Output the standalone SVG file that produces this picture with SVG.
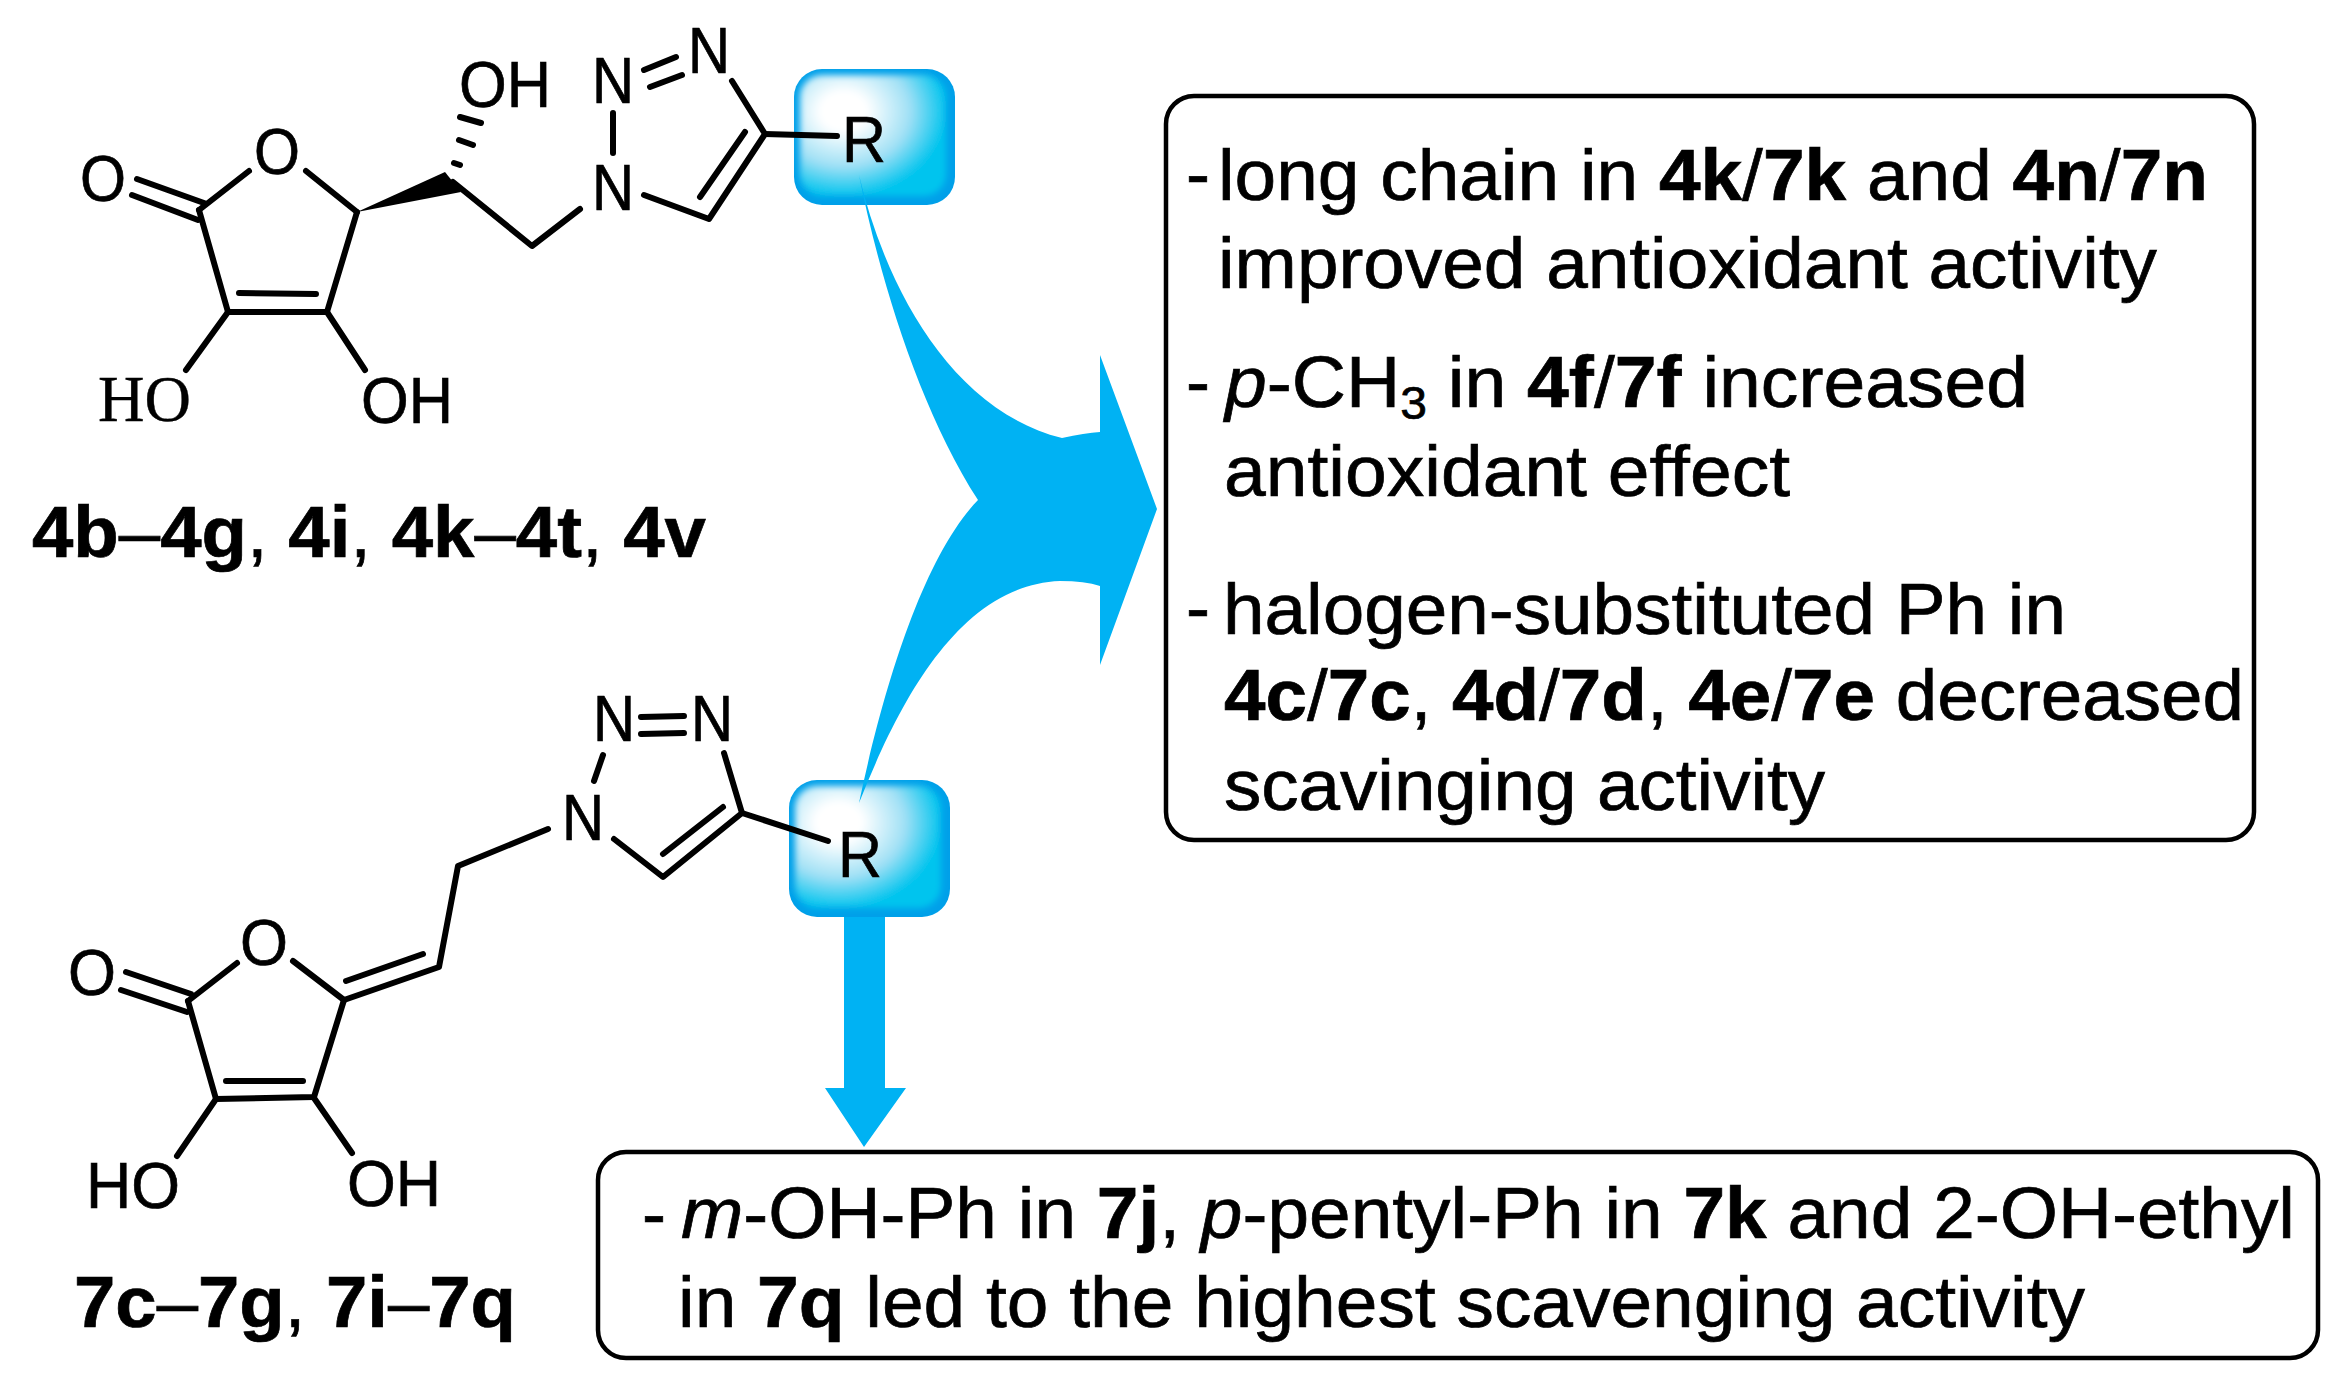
<svg xmlns="http://www.w3.org/2000/svg" width="2350" height="1397" viewBox="0 0 2350 1397">
<style>
text{font-family:"Liberation Sans",Arial,sans-serif;fill:#000;stroke:#000;stroke-width:.7}
.a{font-size:64px}
.s{font-family:"Liberation Serif","Times New Roman",serif;font-size:66px;stroke-width:.4}
.t{font-size:72px}
.l{font-size:72px}
.b{font-weight:bold}
.i{font-style:italic}
.n{font-weight:normal}
.bond{fill:none;stroke:#000;stroke-width:6;stroke-linecap:round;stroke-linejoin:round}
.box{fill:#fff;stroke:#000;stroke-width:4.5}
.arrow{fill:#00B2F3}
</style>
<defs>
<radialGradient id="glow" cx="0.3" cy="0.3" r="0.78">
<stop offset="0" stop-color="#fff"/>
<stop offset="0.2" stop-color="#fff"/>
<stop offset="0.58" stop-color="#a0e0f5"/>
<stop offset="0.9" stop-color="#00c4ee"/>
</radialGradient>
<filter id="soft" x="-10%" y="-10%" width="120%" height="120%"><feGaussianBlur stdDeviation="3"/></filter>
<clipPath id="c1"><rect x="794" y="69" width="161" height="136" rx="28"/></clipPath>
<clipPath id="c2"><rect x="789" y="780" width="161" height="137" rx="28"/></clipPath>
</defs>
<rect width="2350" height="1397" fill="#fff"/>

<g id="r-box-top">
<rect x="794" y="69" width="161" height="136" rx="28" fill="#00A0E9"/>
<g clip-path="url(#c1)"><rect x="800" y="75" width="146" height="121" rx="22" fill="url(#glow)" filter="url(#soft)"/></g>
</g>
<g id="r-box-bottom">
<rect x="789" y="780" width="161" height="137" rx="28" fill="#00A0E9"/>
<g clip-path="url(#c2)"><rect x="795" y="786" width="146" height="122" rx="22" fill="url(#glow)" filter="url(#soft)"/></g>
</g>

<g id="connectors">
<path class="arrow" d="M859 175C885 285 950 410 1062 438Q1085 433 1100 432V355L1157 509L1100 665V586Q1085 581 1060 581C960 585 900 700 859 803C885 680 925 555 978 500C920 410 880 280 859 175Z"/>
<path class="arrow" d="M844 917H885V1088H906L864 1147L825 1088H844Z"/>
</g>

<g id="compound-4">
<g class="bond">
<path d="M199 210L228 312L327 312L357 212"/>
<path d="M239 293L316 294"/>
<path d="M199 210L249 171M306 171L357 212"/>
<path d="M137 179L204 203M132 195L198 220"/>
<path d="M228 312L186 370M327 312L365 370"/>
<path d="M453 182L532 246L580 209"/>
<path d="M613 113L613 153"/>
<path d="M644 70L676 57M650 87L682 75"/>
<path d="M732 81L765 134L709 219L644 195"/>
<path d="M745 132L700 197"/>
<path d="M765 134L837 136"/>
<path d="M454 163L460 165M459 140L473 145M460 117L481 123"/>
</g>
<polygon points="357,212 461,192 445,172" fill="#000"/>
<text class="a" x="80" y="201" textLength="46" lengthAdjust="spacingAndGlyphs">O</text>
<text class="a" x="254" y="174" textLength="46" lengthAdjust="spacingAndGlyphs">O</text>
<text class="a" x="459" y="107" textLength="92" lengthAdjust="spacingAndGlyphs">OH</text>
<text class="a" x="592" y="103" textLength="42" lengthAdjust="spacingAndGlyphs">N</text>
<text class="a" x="688" y="73" textLength="42" lengthAdjust="spacingAndGlyphs">N</text>
<text class="a" x="592" y="210" textLength="42" lengthAdjust="spacingAndGlyphs">N</text>
<text class="a" x="842" y="162" textLength="44" lengthAdjust="spacingAndGlyphs">R</text>
<text class="s" x="98" y="421" textLength="93" lengthAdjust="spacingAndGlyphs">HO</text>
<text class="a" x="361" y="423" textLength="92" lengthAdjust="spacingAndGlyphs">OH</text>
<text class="l b" x="32" y="557" textLength="674" lengthAdjust="spacingAndGlyphs">4b<tspan class="n">–</tspan>4g<tspan class="n">, </tspan>4i<tspan class="n">, </tspan>4k<tspan class="n">–</tspan>4t<tspan class="n">, </tspan>4v</text>
</g>

<g id="compound-7">
<g class="bond">
<path d="M641 717L684 716M641 734L684 733"/>
<path d="M603 755L594 781"/>
<path d="M724 753L742 813L663 877L614 839"/>
<path d="M723 807L663 854"/>
<path d="M742 813L828 841"/>
<path d="M548 829L458 866L439 967L344 1000"/>
<path d="M423 954L346 981"/>
<path d="M188 1001L237 963M293 961L344 1000"/>
<path d="M126 972L191 994M121 990L187 1012"/>
<path d="M188 1001L216 1099L314 1097L344 1000"/>
<path d="M226 1081L303 1081"/>
<path d="M216 1099L177 1156M314 1098L352 1153"/>
</g>
<text class="a" x="593" y="741" textLength="42" lengthAdjust="spacingAndGlyphs">N</text>
<text class="a" x="691" y="741" textLength="42" lengthAdjust="spacingAndGlyphs">N</text>
<text class="a" x="562" y="840" textLength="42" lengthAdjust="spacingAndGlyphs">N</text>
<text class="a" x="240" y="965" textLength="48" lengthAdjust="spacingAndGlyphs">O</text>
<text class="a" x="68" y="995" textLength="48" lengthAdjust="spacingAndGlyphs">O</text>
<text class="a" x="838" y="877" textLength="44" lengthAdjust="spacingAndGlyphs">R</text>
<text class="a" x="86" y="1208" textLength="94" lengthAdjust="spacingAndGlyphs">HO</text>
<text class="a" x="347" y="1206" textLength="94" lengthAdjust="spacingAndGlyphs">OH</text>
<text class="l b" x="74" y="1327" textLength="442" lengthAdjust="spacingAndGlyphs">7c<tspan class="n">–</tspan>7g<tspan class="n">, </tspan>7i<tspan class="n">–</tspan>7q</text>
</g>

<g id="summary-box">
<rect class="box" x="1166" y="96" width="1088" height="744" rx="28"/>
<text class="t" x="1186" y="198">-</text>
<text class="t" x="1218" y="200" textLength="990" lengthAdjust="spacingAndGlyphs">long chain in <tspan class="b">4k</tspan>/<tspan class="b">7k</tspan> and <tspan class="b">4n</tspan>/<tspan class="b">7n</tspan></text>
<text class="t" x="1218" y="288" textLength="939" lengthAdjust="spacingAndGlyphs">improved antioxidant activity</text>
<text class="t" x="1186" y="406">-</text>
<text class="t" x="1225" y="407" textLength="803" lengthAdjust="spacingAndGlyphs"><tspan class="i">p</tspan>-CH<tspan font-size="46" dy="12">3</tspan><tspan dy="-12"> in </tspan><tspan class="b">4f</tspan>/<tspan class="b">7f</tspan> increased</text>
<text class="t" x="1224" y="496" textLength="566" lengthAdjust="spacingAndGlyphs">antioxidant effect</text>
<text class="t" x="1186" y="632">-</text>
<text class="t" x="1223" y="634" textLength="843" lengthAdjust="spacingAndGlyphs">halogen-substituted Ph in</text>
<text class="t" x="1224" y="720" textLength="1020" lengthAdjust="spacingAndGlyphs"><tspan class="b">4c</tspan>/<tspan class="b">7c</tspan>, <tspan class="b">4d</tspan>/<tspan class="b">7d</tspan>, <tspan class="b">4e</tspan>/<tspan class="b">7e</tspan> decreased</text>
<text class="t" x="1224" y="810" textLength="601" lengthAdjust="spacingAndGlyphs">scavinging activity</text>
</g>

<g id="result-box">
<rect class="box" x="598" y="1152" width="1720" height="206" rx="28"/>
<text class="t" x="642" y="1238">-</text>
<text class="t" x="681" y="1238" textLength="1614" lengthAdjust="spacingAndGlyphs"><tspan class="i">m</tspan>-OH-Ph in <tspan class="b">7j</tspan>, <tspan class="i">p</tspan>-pentyl-Ph in <tspan class="b">7k</tspan> and 2-OH-ethyl</text>
<text class="t" x="678" y="1327" textLength="1407" lengthAdjust="spacingAndGlyphs">in <tspan class="b">7q</tspan> led to the highest scavenging activity</text>
</g>
</svg>
